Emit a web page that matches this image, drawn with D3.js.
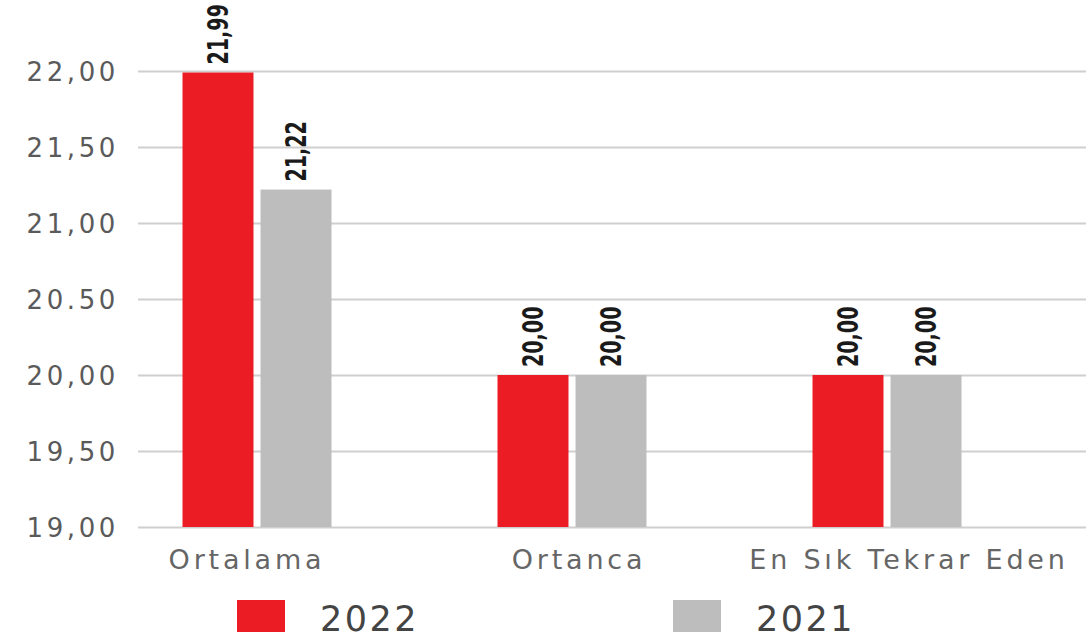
<!DOCTYPE html>
<html><head><meta charset="utf-8">
<script src="https://cdn.jsdelivr.net/npm/d3@7"></script>
<style>body{margin:0;background:#fff}svg{display:block}</style>
</head><body>
<svg id="c" width="1086" height="639"></svg>
<script>
const categories = ["Ortalama", "Ortanca", "En Sık Tekrar Eden"];
const seriesNames = ["2022", "2021"];
const values2022 = [21.99, 20.00, 20.00];
const values2021 = [21.22, 20.00, 20.00];
const valueLabels2022 = ["21,99", "20,00", "20,00"];
const valueLabels2021 = ["21,22", "20,00", "20,00"];
const tickValues = [19, 19.5, 20, 20.5, 21, 21.5, 22];
const tickLabels = ["19,00", "19,50", "20,00", "20.50", "21,00", "21,50", "22,00"];
const colors = ["#ec1c24", "#bdbdbd"];
const catLabelShift = [-10, 7, 22];

const svg = d3.select("#c");
const y = d3.scaleLinear().domain([19, 22]).range([527, 71]);
const x = d3.scaleBand().domain(categories).range([99.5, 1044.5]).paddingInner(0.527).paddingOuter(0.2635);
const x1 = d3.scaleBand().domain(seriesNames).range([0, x.bandwidth()]).paddingInner(0.09);

// gridlines + y labels
const yAxis = d3.axisLeft(y).tickValues(tickValues).tickSize(-(1086 - 138)).tickFormat((d, i) => tickLabels[i]).tickPadding(19);
const ga = svg.append("g").attr("transform", "translate(138,0)").call(yAxis);
ga.select(".domain").remove();
ga.selectAll(".tick line").attr("stroke", "#cfcfcf").attr("stroke-width", 2);
ga.selectAll(".tick text").attr("fill", "#5a5a5a").attr("font-family", "DejaVu Sans, sans-serif")
  .attr("font-size", 26).attr("letter-spacing", 3.6).attr("dy", "0.36em");

const rows = categories.map((c, i) => ({c, i, vals: [values2022[i], values2021[i]], labs: [valueLabels2022[i], valueLabels2021[i]]}));
const g = svg.append("g");
rows.forEach(r => {
  seriesNames.forEach((s, j) => {
    const bx = x(r.c) + x1(s);
    g.append("rect").attr("x", bx).attr("y", y(r.vals[j])).attr("width", x1.bandwidth())
      .attr("height", y(19) - y(r.vals[j])).attr("fill", colors[j]);
    const cx = bx + x1.bandwidth() / 2;
    const ty = y(r.vals[j]) - 8;
    g.append("text").attr("transform", `translate(${cx},${ty}) rotate(-90) scale(0.66,1)`)
      .attr("dy", "0.36em").attr("text-anchor", "start")
      .attr("font-family", "DejaVu Sans, sans-serif")
      .attr("font-weight", "bold").attr("font-size", 29).attr("fill", "#1a1a1a")
      .text(r.labs[j]);
  });
  g.append("text").attr("x", x(r.c) + x.bandwidth() / 2 + catLabelShift[r.i])
    .attr("y", 569).attr("text-anchor", "middle")
    .attr("font-family", "DejaVu Sans, sans-serif").attr("font-size", 27).attr("letter-spacing", 3.8)
    .attr("fill", "#666").text(r.c);
});

// legend
const legX = [237, 673];
seriesNames.forEach((s, j) => {
  const lg = svg.append("g").attr("transform", `translate(${legX[j]},600)`);
  lg.append("rect").attr("width", 48).attr("height", 32).attr("fill", colors[j]);
  lg.append("text").attr("x", 83).attr("y", 31).attr("font-family", "DejaVu Sans, sans-serif")
    .attr("font-size", 35).attr("letter-spacing", 2.5).attr("fill", "#444").text(s);
});
</script>
</body></html>
